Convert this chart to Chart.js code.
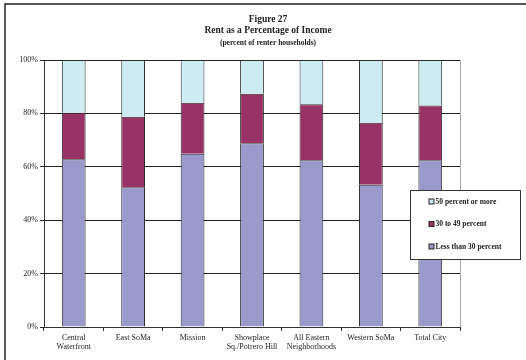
<!DOCTYPE html>
<html>
<head>
<meta charset="utf-8">
<script src="https://cdn.jsdelivr.net/npm/chart.js@4"></script>
<style>
  html, body { margin: 0; padding: 0; background: #fff; }
  canvas { display: block; }
</style>
</head>
<body>
<canvas id="rentChart" width="526" height="360"></canvas>
<script>
const neighborhoods = [
    ['Central', 'Waterfront'],
    'East SoMa',
    'Mission',
    ['Showplace', 'Sq./Potrero Hill'],
    ['All Eastern', 'Neighborhoods'],
    'Western SoMa',
    'Total City'
];
const lessThan30 = [62.8, 52.3, 64.9, 68.8, 62.5, 53.3, 62.5];
const from30to49 = [17.4, 26.4, 19.1, 18.6, 20.9, 23.2, 20.5];
const over50 = [19.8, 21.3, 16.0, 12.6, 16.6, 23.5, 17.0];
const yTicks = [0, 20, 40, 60, 80, 100];

const serif = '"Liberation Serif", "Times New Roman", serif';

// frame, title, right border and the boxed legend
const decorPlugin = {
    id: 'decor',
    afterDraw(chart) {
        const c = chart.ctx;
        const area = chart.chartArea;
        c.save();

        c.strokeStyle = '#222';
        c.lineWidth = 1.5;
        c.beginPath();
        c.moveTo(5, 360);
        c.lineTo(5, 4);
        c.lineTo(526, 4);
        c.stroke();

        c.strokeStyle = '#aaa';
        c.lineWidth = 1;
        c.beginPath();
        c.moveTo(area.right + 0.5, area.top);
        c.lineTo(area.right + 0.5, area.bottom);
        c.stroke();

        c.fillStyle = '#222';
        c.textAlign = 'center';
        c.textBaseline = 'middle';
        c.font = 'bold 9.5px ' + serif;
        c.fillText('Figure 27', 268, 19.5);
        c.fillText('Rent as a Percentage of Income', 268, 31);
        c.font = 'bold 7.5px ' + serif;
        c.fillText('(percent of renter households)', 268, 43.5);

        // legend box
        c.fillStyle = '#fff';
        c.fillRect(410, 190, 111, 70);
        c.strokeStyle = '#333';
        c.lineWidth = 1;
        c.strokeRect(410.5, 190.5, 110, 69);

        const items = chart.data.datasets.slice().reverse();
        const ys = [202, 224.5, 247];
        c.textAlign = 'left';
        c.font = 'bold 7.5px ' + serif;
        items.forEach((ds, i) => {
            c.fillStyle = ds.backgroundColor;
            c.fillRect(429, ys[i] - 3, 5, 5);
            c.strokeStyle = '#222';
            c.strokeRect(429, ys[i] - 3, 5, 5);
            c.fillStyle = '#222';
            c.fillText(ds.label, 435.5, ys[i]);
        });
        c.restore();
    }
};

new Chart(document.getElementById('rentChart'), {
    type: 'bar',
    data: {
        labels: neighborhoods,
        datasets: [
            { label: 'Less than 30 percent', data: lessThan30, backgroundColor: '#9999cc' },
            { label: '30 to 49 percent', data: from30to49, backgroundColor: '#993366' },
            { label: '50 percent or more', data: over50, backgroundColor: '#cdebf2' }
        ].map(ds => Object.assign(ds, {
            borderColor: '#2a2a2a',
            borderWidth: 1,
            categoryPercentage: 1,
            barPercentage: 0.4
        }))
    },
    options: {
        responsive: false,
        animation: false,
        layout: { padding: { top: 60, right: 66, bottom: 0, left: 0 } },
        plugins: {
            legend: { display: false },
            tooltip: { enabled: false }
        },
        scales: {
            x: {
                stacked: true,
                offset: true,
                afterFit: (axis) => { axis.height = 33; },
                grid: {
                    offset: true,
                    drawOnChartArea: false,
                    color: '#333',
                    tickLength: 4
                },
                border: { color: '#333', width: 1 },
                ticks: {
                    color: '#222',
                    padding: 2,
                    maxRotation: 0,
                    autoSkip: false,
                    font: { family: serif, size: 8 }
                }
            },
            y: {
                stacked: true,
                min: 0,
                max: 100,
                afterFit: (axis) => { axis.width = 44; },
                afterBuildTicks: (axis) => { axis.ticks = yTicks.map(v => ({ value: v })); },
                grid: {
                    color: '#222',
                    lineWidth: 1,
                    tickLength: 4
                },
                border: { color: '#333', width: 1 },
                ticks: {
                    color: '#222',
                    padding: 2,
                    font: { family: serif, size: 8 },
                    callback: (v) => v + '%'
                }
            }
        }
    },
    plugins: [decorPlugin]
});
</script>
</body>
</html>
